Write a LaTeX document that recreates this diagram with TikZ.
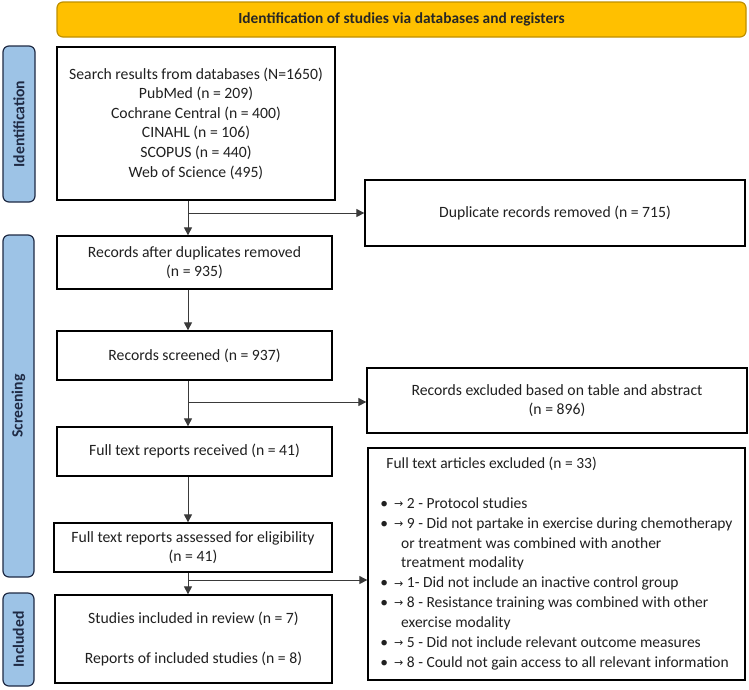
\documentclass[tikz,border=0pt]{standalone}
\usepackage{fontspec}
\setmainfont{Carlito}
\newfontfamily\symf{DejaVu Sans}
\usetikzlibrary{arrows.meta}
\definecolor{bannerfill}{HTML}{FFC000}
\definecolor{bannerdraw}{HTML}{BF9000}
\definecolor{labfill}{HTML}{9DC3E6}
\definecolor{labdraw}{HTML}{1F2A44}
\definecolor{labtext}{HTML}{1F2A44}
\definecolor{txt}{HTML}{202020}
\definecolor{conn}{HTML}{3A3A3A}
\newcommand\mainsz{\fontsize{15.7}{19.6}\selectfont}
\newcommand\listsz{\fontsize{15.5}{19.9}\selectfont}
\newcommand\arw{\raisebox{0.8pt}{\symf\fontsize{11}{11}\selectfont →}}
\begin{document}
\begin{tikzpicture}[x=1pt,y=-1pt,
  boxbase/.style={draw=black, line width=1.3pt, fill=white, text=txt, inner sep=0pt},
  box/.style={boxbase, align=center, font=\mainsz},
  lab/.style={draw=labdraw, line width=1.2pt, fill=labfill, rounded corners=6pt, text=labtext, font=\mainsz\bfseries, rotate=90, inner sep=0pt},
  banner/.style={draw=bannerdraw, line width=1.2pt, fill=bannerfill, rounded corners=6pt, text=black!85, font=\fontsize{15.4}{19.6}\selectfont\bfseries, inner sep=0pt},
  arr/.style={draw=conn, line width=1pt, -{Triangle[length=8pt,width=8pt]}}]
\useasboundingbox (0,0) rectangle (749,689);

\node[banner, minimum width=689pt, minimum height=35pt] (banner) at (401.5,19.5) {Identification of studies via databases and registers};

\node[lab, minimum width=156pt, minimum height=32pt] (idlab) at (19,124) {Identification};
\node[lab, minimum width=342pt, minimum height=31pt] (scrlab) at (18.5,406) {Screening};
\node[lab, minimum width=93pt, minimum height=31pt] (inclab) at (18.5,639.5) {Included};

\node[box, minimum width=278pt, minimum height=153pt] (search) at (196,123.5) {Search results from databases (N=1650)\\PubMed (n = 209)\\Cochrane Central (n = 400)\\CINAHL (n = 106)\\SCOPUS (n = 440)\\Web of Science (495)};
\node[box, minimum width=380pt, minimum height=66pt] (dup) at (555,213) {Duplicate records removed (n = 715)};
\node[box, minimum width=275pt, minimum height=53pt] (after) at (194.5,262.5) {Records after duplicates removed\\(n = 935)};
\node[box, minimum width=275pt, minimum height=49pt] (screened) at (194.5,355.5) {Records screened (n = 937)};
\node[box, minimum width=380pt, minimum height=65pt] (excl1) at (557,400.5) {Records excluded based on table and abstract\\(n = 896)};
\node[box, minimum width=275pt, minimum height=49pt] (received) at (194.5,451.5) {Full text reports received (n = 41)};
\node[box, minimum width=278pt, minimum height=49pt] (assessed) at (193,547.5) {Full text reports assessed for eligibility\\(n = 41)};
\node[box, minimum width=277pt, minimum height=88pt] (included) at (193.5,639) {Studies included in review (n = 7)\\[19.6pt]Reports of included studies (n = 8)};
\node[boxbase, font=\listsz, minimum width=377pt, minimum height=232pt] (excl2) at (556.5,564) {%
\begin{tabular}{@{}l@{\hspace{6pt}}l@{}}
\multicolumn{2}{@{}l@{}}{\hspace*{6pt}Full text articles excluded (n = 33)}\\
 & \\
• & \arw{} 2 - Protocol studies\\
• & \arw{} 9 - Did not partake in exercise during chemotherapy\\
 & \hspace*{7pt}or treatment was combined with another\\
 & \hspace*{7pt}treatment modality\\
• & \arw{} 1- Did not include an inactive control group\\
• & \arw{} 8 - Resistance training was combined with other\\
 & \hspace*{7pt}exercise modality\\
• & \arw{} 5 - Did not include relevant outcome measures\\
• & \arw{} 8 - Could not gain access to all relevant information
\end{tabular}};

\coordinate (vx) at (188,0);
\coordinate (b2) at (188,402);
\coordinate (b3) at (188,580);
\draw[arr] (search.south -| vx) -- (after.north -| vx);
\draw[arr] (vx |- dup.west) -- (dup.west);
\draw[arr] (after.south -| vx) -- (screened.north -| vx);
\draw[arr] (screened.south -| vx) -- (received.north -| vx);
\draw[arr] (b2) -- (b2 -| excl1.west);
\draw[arr] (received.south -| vx) -- (assessed.north -| vx);
\draw[arr] (assessed.south -| vx) -- (included.north -| vx);
\draw[arr] (b3) -- (b3 -| excl2.west);
\end{tikzpicture}
\end{document}
